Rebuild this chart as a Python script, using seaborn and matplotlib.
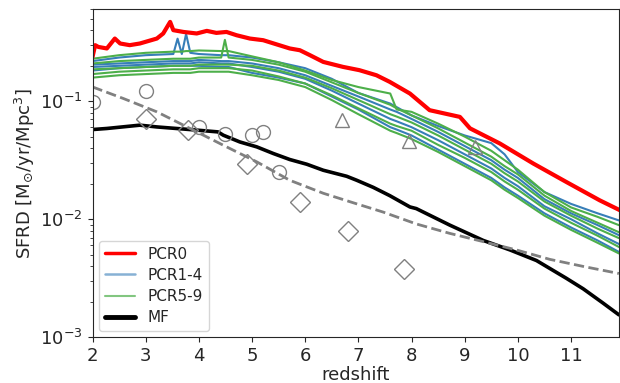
import numpy as np
import pandas as pd
import matplotlib
matplotlib.use("Agg")
import matplotlib.pyplot as plt
from matplotlib.lines import Line2D
import seaborn as sns

# ---------------- data (log10 SFRD) ----------------
z_pcr0 = [2.0, 2.05, 2.11, 2.27, 2.42, 2.52, 2.70, 2.89, 3.21, 3.33, 3.46, 3.52,
          3.71, 3.96, 4.15, 4.33, 4.52, 4.71, 4.96, 5.21, 5.71, 5.90, 6.09, 6.34,
          6.71, 7.02, 7.34, 7.59, 7.97, 8.34, 8.91, 9.10, 9.66, 10.29, 10.91,
          11.54, 11.92]
log_pcr0 = [-0.625, -0.525, -0.54, -0.553, -0.469, -0.511, -0.525, -0.511,
            -0.469, -0.426, -0.328, -0.398, -0.413, -0.426, -0.404, -0.421,
            -0.413, -0.441, -0.469, -0.483, -0.553, -0.568, -0.61, -0.667,
            -0.709, -0.737, -0.78, -0.836, -0.935, -1.076, -1.133, -1.23,
            -1.358, -1.528, -1.684, -1.84, -1.924]

z_sim = [2.0, 2.5, 3.0, 3.52, 3.60, 3.68, 3.76, 3.84, 4.0, 4.42, 4.49, 4.56,
         5.0, 5.5, 6.0, 6.5, 7.0, 7.6, 7.72, 8.0, 8.5, 9.0, 9.5, 9.75, 10.0,
         10.5, 11.0, 11.5, 11.9]

log_pcr1 = [-0.66, -0.63, -0.61, -0.60, -0.47, -0.60, -0.43, -0.59, -0.60, -0.61,
            -0.61, -0.61, -0.63, -0.67, -0.72, -0.81, -0.93, -1.02, -1.05, -1.12,
            -1.21, -1.29, -1.355, -1.45, -1.60, -1.77, -1.87, -1.95, -2.01]
log_pcr2 = [-0.69, -0.68, -0.67, -0.66, -0.66, -0.66, -0.66, -0.66, -0.65, -0.66,
            -0.66, -0.66, -0.68, -0.72, -0.78, -0.87, -0.96, -1.07, -1.09, -1.15,
            -1.26, -1.38, -1.50, -1.58, -1.65, -1.83, -1.95, -2.05, -2.135]
log_pcr3 = [-0.71, -0.70, -0.69, -0.68, -0.68, -0.68, -0.68, -0.68, -0.67, -0.68,
            -0.68, -0.68, -0.71, -0.75, -0.81, -0.91, -1.02, -1.15, -1.17, -1.22,
            -1.33, -1.45, -1.57, -1.65, -1.72, -1.89, -2.00, -2.12, -2.21]
log_pcr4 = [-0.74, -0.72, -0.71, -0.70, -0.70, -0.70, -0.70, -0.70, -0.70, -0.71,
            -0.71, -0.71, -0.76, -0.80, -0.85, -0.96, -1.07, -1.22, -1.24, -1.29,
            -1.41, -1.53, -1.65, -1.73, -1.80, -1.95, -2.07, -2.18, -2.277]

log_pcr5 = [-0.64, -0.61, -0.59, -0.58, -0.58, -0.58, -0.575, -0.575, -0.57, -0.575,
            -0.575, -0.575, -0.62, -0.67, -0.74, -0.82, -0.88, -0.935, -1.07, -1.09,
            -1.19, -1.30, -1.42, -1.50, -1.58, -1.77, -1.90, -1.98, -2.05]
log_pcr6 = [-0.68, -0.66, -0.65, -0.64, -0.64, -0.64, -0.64, -0.64, -0.63, -0.63,
            -0.48, -0.63, -0.65, -0.69, -0.75, -0.84, -0.93, -1.03, -1.06, -1.12,
            -1.23, -1.35, -1.47, -1.55, -1.62, -1.80, -1.93, -2.03, -2.11]
log_pcr7 = [-0.73, -0.72, -0.71, -0.70, -0.70, -0.70, -0.70, -0.70, -0.69, -0.69,
            -0.69, -0.69, -0.70, -0.74, -0.80, -0.89, -0.99, -1.11, -1.13, -1.18,
            -1.29, -1.41, -1.53, -1.61, -1.68, -1.85, -1.97, -2.08, -2.16]
log_pcr8 = [-0.77, -0.75, -0.74, -0.73, -0.73, -0.73, -0.73, -0.73, -0.72, -0.72,
            -0.72, -0.72, -0.74, -0.79, -0.85, -0.95, -1.06, -1.19, -1.21, -1.25,
            -1.37, -1.48, -1.60, -1.68, -1.75, -1.91, -2.03, -2.14, -2.235]
log_pcr9 = [-0.80, -0.78, -0.77, -0.76, -0.76, -0.76, -0.76, -0.76, -0.75, -0.75,
            -0.75, -0.75, -0.78, -0.82, -0.88, -0.99, -1.11, -1.25, -1.27, -1.32,
            -1.43, -1.55, -1.67, -1.75, -1.82, -1.97, -2.09, -2.20, -2.29]

z_mf = [2.0, 2.27, 2.89, 3.21, 3.83, 4.36, 4.46, 4.77, 5.09, 5.40, 5.71, 6.03,
        6.34, 6.78, 6.97, 7.28, 7.59, 7.97, 8.09, 8.72, 9.35, 9.85, 10.35,
        10.91, 11.23, 11.60, 11.90]
log_mf = [-1.24, -1.231, -1.203, -1.218, -1.24, -1.26, -1.288, -1.345, -1.387,
          -1.443, -1.494, -1.534, -1.585, -1.636, -1.67, -1.73, -1.80, -1.896,
          -1.91, -2.05, -2.18, -2.26, -2.35, -2.50, -2.59, -2.71, -2.81]

z_fit = [2.0, 2.58, 3.21, 3.83, 4.46, 5.09, 5.71, 6.34, 6.9, 7.47, 8.09, 8.72,
         9.35, 9.97, 10.6, 11.23, 11.9]
log_fit = [-0.879, -0.977, -1.09, -1.23, -1.373, -1.514, -1.67, -1.78, -1.86,
           -1.94, -2.04, -2.12, -2.19, -2.26, -2.34, -2.40, -2.46]

z_circ = [2.0, 3.0, 4.0, 4.5, 5.0, 5.2, 5.5]
sfrd_circ = [0.099, 0.122, 0.0605, 0.0525, 0.0515, 0.055, 0.0251]
z_diam = [3.0, 3.8, 4.9, 5.9, 6.8, 7.85]
sfrd_diam = [0.070, 0.0568, 0.0292, 0.014, 0.0079, 0.0038]
z_tri = [6.7, 7.95, 9.2]
sfrd_tri = [0.0697, 0.0458, 0.0407]

labels = ["PCR0", "PCR1-4", "PCR5-9", "MF"]

RED = "#ff0000"
BLUE = "#377eb8"
GREEN = "#4daf4a"

# ---------------- build frames ----------------
rows = []
for name, arr, grp in [("PCR1", log_pcr1, "blue"), ("PCR2", log_pcr2, "blue"),
                       ("PCR3", log_pcr3, "blue"), ("PCR4", log_pcr4, "blue"),
                       ("PCR5", log_pcr5, "green"), ("PCR6", log_pcr6, "green"),
                       ("PCR7", log_pcr7, "green"), ("PCR8", log_pcr8, "green"),
                       ("PCR9", log_pcr9, "green")]:
    for z, v in zip(z_sim, arr):
        rows.append({"run": name, "group": grp, "z": z, "sfrd": 10 ** v})
df_sim = pd.DataFrame(rows)
df_blue = df_sim[df_sim.group == "blue"]
df_green = df_sim[df_sim.group == "green"]
df_red = pd.DataFrame({"z": z_pcr0, "sfrd": 10 ** np.array(log_pcr0)})
df_mf = pd.DataFrame({"z": z_mf, "sfrd": 10 ** np.array(log_mf)})
df_fit = pd.DataFrame({"z": z_fit, "sfrd": 10 ** np.array(log_fit)})

# ---------------- plot ----------------
sns.set_style("ticks")
plt.rcParams["font.family"] = ["DejaVu Sans"]
plt.rcParams["xtick.direction"] = "out"
plt.rcParams["ytick.direction"] = "out"

fig = plt.figure(figsize=(6.2, 3.83), dpi=100)
ax = fig.add_axes([0.1492, 0.1195, 0.849, 0.856])

sns.lineplot(data=df_blue, x="z", y="sfrd", units="run", estimator=None,
             sort=False, color=BLUE, lw=1.5, ax=ax, legend=False)
sns.lineplot(data=df_green, x="z", y="sfrd", units="run", estimator=None,
             sort=False, color=GREEN, lw=1.5, ax=ax, legend=False)
sns.lineplot(data=df_red, x="z", y="sfrd", estimator=None, sort=False,
             color=RED, lw=3, ax=ax, legend=False)
sns.lineplot(data=df_mf, x="z", y="sfrd", estimator=None, sort=False,
             color="black", lw=2.6, ax=ax, legend=False)
sns.lineplot(data=df_fit, x="z", y="sfrd", estimator=None, sort=False,
             color="grey", lw=2, ls="--", ax=ax, legend=False)

ax.plot(z_circ, sfrd_circ, ls="none", marker="o", ms=10, mfc="none",
        mec="grey", mew=1)
ax.plot(z_diam, sfrd_diam, ls="none", marker="D", ms=10, mfc="none",
        mec="grey", mew=1)
ax.plot(z_tri, sfrd_tri, ls="none", marker="^", ms=10, mfc="none",
        mec="grey", mew=1)

ax.set_yscale("log")
ax.set_xlim(2, 11.9)
ax.set_ylim(1e-3, 0.6)
ax.set_xticks(range(2, 12))
ax.set_xlabel("redshift", fontsize=13, labelpad=1)
ax.set_ylabel(r"SFRD [M$_{\odot}$/yr/Mpc$^3$]", fontsize=13, labelpad=2)
ax.tick_params(axis="both", which="major", labelsize=13)
for s in ax.spines.values():
    s.set_color("0.15")

handles = [Line2D([], [], color=RED, lw=2.5),
           Line2D([], [], color=BLUE, lw=1.8, alpha=0.6),
           Line2D([], [], color=GREEN, lw=1.5, alpha=0.7),
           Line2D([], [], color="black", lw=3.5)]
ax.legend(handles, labels, loc="lower left", fontsize=11, frameon=True,
          fancybox=True, framealpha=0.8, edgecolor="0.8", labelspacing=0.4,
          handlelength=2.0, borderaxespad=0.4)

fig.savefig("out.png", dpi=100)
